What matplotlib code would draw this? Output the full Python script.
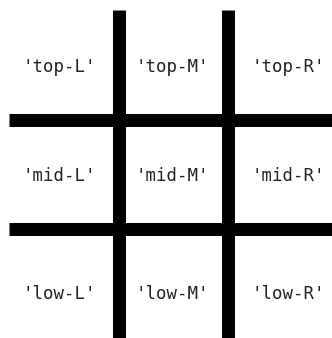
import numpy as np
import matplotlib.pyplot as plt

# labels of the 3x3 grid
rows = ['top', 'mid', 'low']
cols = ['L', 'M', 'R']

W, H = 332, 338
fig = plt.figure(figsize=(W / 100, H / 100), dpi=100)
ax = fig.add_axes([0, 0, 1, 1])
ax.set_xlim(0, W)
ax.set_ylim(H, 0)
ax.axis('off')

# grid lines (pixel layout)
vx = [118.5, 228]
hy = [119.5, 229]
lw = 13 * 72 / 100
ax.vlines(vx, 10, H + 5, colors='black', linewidth=lw)
ax.hlines(hy, 9, W + 5, colors='black', linewidth=lw)

# text centres for each cell
xc = [59, 172, 288]
yc = [67, 176, 294]
for i, r in enumerate(rows):
    for j, c in enumerate(cols):
        ax.text(xc[j], yc[i], "'%s-%s'" % (r, c), ha='center', va='center',
                fontsize=12.5, family='DejaVu Sans Mono', color='#222222')

fig.savefig('out.png', dpi=100)
